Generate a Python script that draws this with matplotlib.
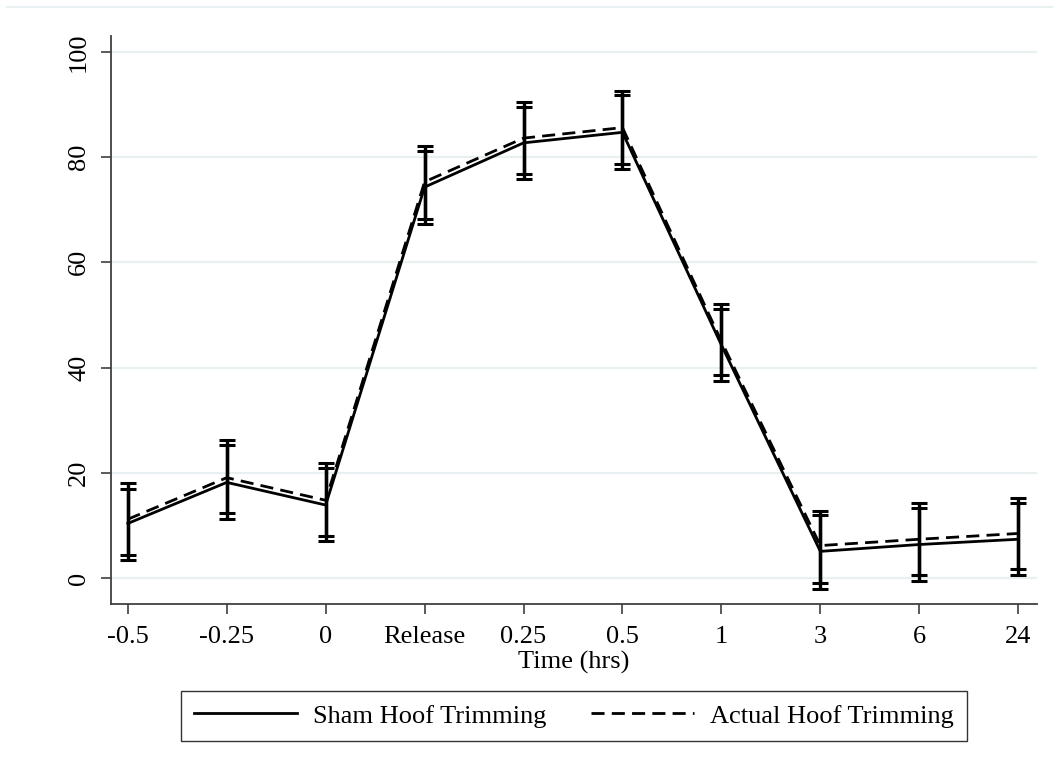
import matplotlib
matplotlib.use("Agg")
import matplotlib.pyplot as plt
from matplotlib.lines import Line2D
import numpy as np

time_labels = ["-0.5", "-0.25", "0", "Release", "0.25", "0.5", "1", "3", "6", "24"]

sham_mean = [10.4, 18.2, 13.9, 74.3, 82.7, 84.7, 44.3, 5.1, 6.4, 7.4]
sham_lo = [3.4, 11.2, 7.0, 67.3, 75.9, 77.8, 37.5, -2.0, -0.5, 0.6]
sham_hi = [17.0, 25.3, 20.9, 81.2, 89.6, 91.7, 51.1, 12.0, 13.4, 14.3]

actual_mean = [11.2, 19.1, 14.8, 75.3, 83.6, 85.6, 45.0, 6.2, 7.4, 8.5]
actual_lo = [4.4, 12.3, 8.0, 68.2, 76.8, 78.7, 38.6, -1.0, 0.6, 1.7]
actual_hi = [18.0, 26.2, 21.8, 82.1, 90.4, 92.5, 52.1, 12.8, 14.3, 15.3]

plt.rcParams['font.family'] = ['Liberation Serif', 'DejaVu Serif']
FS = 19

fig = plt.figure(figsize=(10.53, 7.74), dpi=100)
ax = fig.add_axes([111/1053, 1-604/774, (1037-111)/1053, (604-36)/774])

x = np.arange(len(time_labels))

grid_color = '#E8F0F2'
for v in [0, 20, 40, 60, 80, 100]:
    ax.axhline(v, color=grid_color, lw=1.6, zorder=0)

for lo, hi, m in [(sham_lo, sham_hi, sham_mean), (actual_lo, actual_hi, actual_mean)]:
    lo = np.array(lo); hi = np.array(hi); m = np.array(m)
    ax.errorbar(x, m, yerr=[m - lo, hi - m], fmt='none', ecolor='black',
                elinewidth=2.4, capsize=5.5, capthick=2.2, zorder=2)

ax.plot(x, sham_mean, color='black', lw=2.0, ls='-', zorder=3, label='Sham Hoof Trimming')
ax.plot(x, actual_mean, color='black', lw=2.0, ls=(0, (4.7, 2.6)), zorder=3, label='Actual Hoof Trimming')

ax.set_xlim(-0.17, 9.19)
ax.set_ylim(-4.9, 103)
ax.set_xticks(x)
ax.set_xticklabels(time_labels, fontsize=FS)
ax.set_yticks([0, 20, 40, 60, 80, 100])
ax.set_yticklabels(["0", "20", "40", "60", "80", "100"], fontsize=FS, rotation=90, va='center')
ax.tick_params(axis='x', length=7, width=1.2, color='#404040', pad=9)
ax.tick_params(axis='y', length=7, width=1.2, color='#404040', pad=8)

for s in ['top', 'right']:
    ax.spines[s].set_visible(False)
for s in ['left', 'bottom']:
    ax.spines[s].set_color('#404040')
    ax.spines[s].set_linewidth(1.3)

ax.set_xlabel("Time (hrs)", fontsize=FS, labelpad=2)

leg = ax.legend(loc='upper center', bbox_to_anchor=(0.5, -0.153), ncol=2, frameon=True,
                fontsize=FS, handlelength=3.9, columnspacing=1.7, fancybox=False,
                edgecolor='black', borderpad=0.5, handletextpad=0.6, borderaxespad=0)
leg.get_frame().set_linewidth(1.0)

fig.add_artist(Line2D([7/1053, 1], [1-7/774, 1-7/774], color='#E8F0F2', lw=1.5))

fig.savefig("out.png", dpi=100, facecolor='white')
